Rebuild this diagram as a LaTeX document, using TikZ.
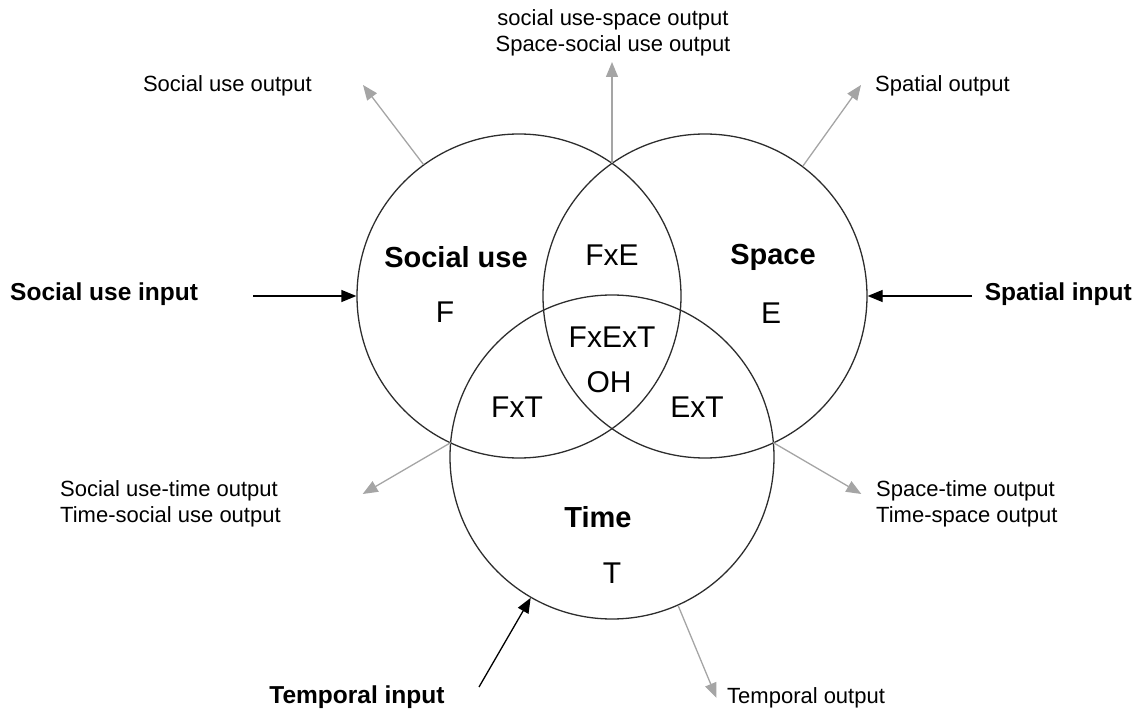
\documentclass[tikz,border=0pt]{standalone}
\usepackage{fontspec}
\setmainfont{Liberation Sans}
\usetikzlibrary{arrows.meta}
\definecolor{outgray}{RGB}{165,165,165}
\definecolor{ringgray}{RGB}{45,45,45}
\begin{document}
\begin{tikzpicture}[x=1pt,y=-1pt,
	ring/.style={circle,draw=ringgray,line width=1.3pt,minimum size=324pt,inner sep=0pt},
	setname/.style={inner sep=0pt,font=\fontsize{29}{34}\selectfont\bfseries},
	region/.style={inner sep=0pt,font=\fontsize{30}{34}\selectfont},
	inlabel/.style={inner sep=0pt,font=\fontsize{24.5}{29}\selectfont\bfseries},
	outlabel/.style={inner sep=0pt,font=\fontsize{22}{26}\selectfont,align=left},
	inarrow/.style={draw=black,line width=1.3pt,-{Triangle[length=15pt,width=12pt]}},
	outarrow/.style={draw=outgray,line width=1.3pt,-{Triangle[length=15pt,width=12pt]}}]
	\useasboundingbox (0,0) rectangle (1136,711);
	% i tre insiemi
	\node [ring] (F) at (519,296) {};
	\node [ring] (E) at (705,296) {};
	\node [ring] (T) at (612,457) {};
	\coordinate (FE) at (612,163.4); % intersezioni esterne
	\coordinate (FT) at (450.8,442.6);
	\coordinate (ET) at (773.2,442.6);
	\node [setname] (Fname) at (456,257) {Social use};
	\node [setname] (Ename) at (773,257) {Space};
	\node [setname] (Tname) at (598,517) {Time};
	\node [region] (Fonly) at (445,312) {F};
	\node [region] (Eonly) at (771,313) {E};
	\node [region] (Tonly) at (612,573) {T};
	\node [region] (FxE) at (612,255) {FxE};
	\node [region] (FxT) at (517,407) {FxT};
	\node [region] (ExT) at (697,407) {ExT};
	\node [region] (FxExT) at (612,337) {FxExT};
	\node [region] (OH) at (609,382) {OH};
	% ingressi
	\coordinate (fin) at (253,296);
	\coordinate (ein) at (972,296);
	\coordinate (tin) at (479,687);
	\draw [inarrow] (fin) -- (F.west);
	\draw [inarrow] (ein) -- (E.east);
	\draw [inarrow] (tin) -- (T.240);
	\node [inlabel,anchor=west] (finlbl) at (10,294) {Social use input};
	\node [inlabel,anchor=east] (einlbl) at (1132,294) {Spatial input};
	\node [inlabel] (tinlbl) at (357,697) {Temporal input};
	% uscite
	\coordinate (fout) at (363,85);
	\coordinate (eout) at (861,85);
	\coordinate (tout) at (716.5,698);
	\coordinate (feout) at (612,62);
	\coordinate (ftout) at (362.7,494);
	\coordinate (etout) at (861.3,494);
	\draw [outarrow] (F.126.5) -- (fout);
	\draw [outarrow] (E.53.5) -- (eout);
	\draw [outarrow] (T.-66.6) -- (tout);
	\draw [outarrow] (FE) -- (feout);
	\draw [outarrow] (FT) -- (ftout);
	\draw [outarrow] (ET) -- (etout);
	\node [outlabel,anchor=east] (foutlbl) at (312,86) {Social use output};
	\node [outlabel,anchor=west] (eoutlbl) at (875,86) {Spatial output};
	\node [outlabel,align=center] (feoutlbl) at (613,33) {social use-space output\\Space-social use output};
	\node [outlabel,anchor=west] (ftoutlbl) at (60,504) {Social use-time output\\Time-social use output};
	\node [outlabel,anchor=west] (etoutlbl) at (876,504) {Space-time output\\Time-space output};
	\node [outlabel,anchor=west] (toutlbl) at (727,698) {Temporal output};
\end{tikzpicture}
\end{document}
